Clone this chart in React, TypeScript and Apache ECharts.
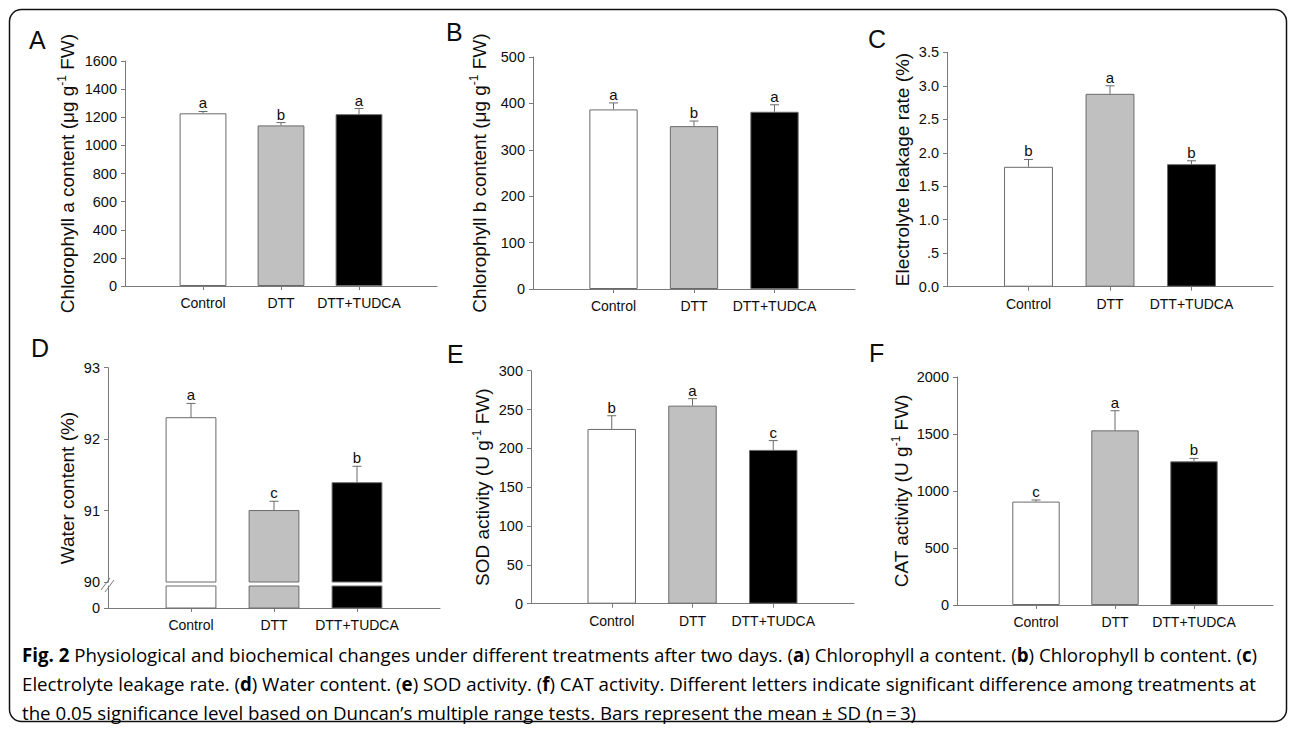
import React, { useEffect, useRef } from 'react';
import * as echarts from 'echarts';

// ---------------- data ----------------
const treatments = ['Control', 'DTT', 'DTT+TUDCA'];
const barColors = ['#ffffff', '#c0c0c0', '#000000'];

const chlAMean = [1228, 1142, 1222];
const chlASd = [13, 20, 40];
const chlALetters = ['a', 'b', 'a'];

const chlBMean = [387, 351, 382];
const chlBSd = [14, 11, 15];
const chlBLetters = ['a', 'b', 'a'];

const leakMean = [1.79, 2.88, 1.83];
const leakSd = [0.11, 0.12, 0.05];
const leakLetters = ['b', 'a', 'b'];
const leakTickLabels = ['0.0', '.5', '1.0', '1.5', '2.0', '2.5', '3.0', '3.5'];

const waterMean = [92.3, 91.0, 91.39];
const waterSd = [0.2, 0.13, 0.23];
const waterLetters = ['a', 'c', 'b'];
const waterBreak = 90;

const sodMean = [225, 255, 198];
const sodSd = [17, 9, 12];
const sodLetters = ['b', 'a', 'c'];

const catMean = [907, 1532, 1260];
const catSd = [14, 172, 26];
const catLetters = ['c', 'a', 'b'];

const captionLines = [
  '{b|Fig. 2}{n| Physiological and biochemical changes under different treatments after two days. (}{b|a}{n|) Chlorophyll a content. (}{b|b}{n|) Chlorophyll b content. (}{b|c}{n|)}',
  '{n|Electrolyte leakage rate. (}{b|d}{n|) Water content. (}{b|e}{n|) SOD activity. (}{b|f}{n|) CAT activity. Different letters indicate significant difference among treatments at}',
  '{n|the 0.05 significance level based on Duncan\u2019s multiple range tests. Bars represent the mean \u00b1 SD (n\u2009=\u20093)}',
];

// ---------------- styles ----------------
const FONT = '"Liberation Sans", Arial, sans-serif';
const CAP_FONT = '"Open Sans", sans-serif';
const AXIS_GRAY = '#7a7a7a';
const BORDER = '#6a6a6a';
const TEXT = '#0d0d0d';
const paddedCats = ['', ...treatments, ''];

const nameRich = {
  t: { fontSize: 19, fontFamily: FONT, color: TEXT, lineHeight: 22 },
  s: { fontSize: 12, fontFamily: FONT, color: TEXT, verticalAlign: 'top' },
};

function xAxisFor(gridIndex: number, visible = true) {
  return {
    type: 'category',
    gridIndex,
    data: paddedCats,
    boundaryGap: false,
    show: visible,
    axisLine: { show: true, lineStyle: { color: AXIS_GRAY, width: 1 } },
    axisTick: {
      show: true,
      length: 4,
      interval: (i: number) => i >= 1 && i <= treatments.length,
      lineStyle: { color: AXIS_GRAY },
    },
    axisLabel: { interval: 0, margin: 10, fontSize: 14, color: TEXT, fontFamily: FONT },
    splitLine: { show: false },
  };
}

function yAxisFor(gridIndex: number, min: number, max: number, interval: number, extra: any = {}) {
  return {
    type: 'value',
    gridIndex,
    min,
    max,
    interval,
    axisLine: { show: true, lineStyle: { color: AXIS_GRAY, width: 1 } },
    axisTick: { show: true, length: 4, lineStyle: { color: AXIS_GRAY } },
    axisLabel: {
      margin: 8,
      fontSize: 14.5,
      color: TEXT,
      fontFamily: FONT,
      formatter: (v: number) => String(v),
      ...(extra.axisLabel || {}),
    },
    splitLine: { show: false },
    nameLocation: 'middle',
    nameTextStyle: { rich: nameRich },
    ...extra.rest,
  };
}

function barSeries(axisIndex: number, means: number[]) {
  return {
    type: 'bar',
    xAxisIndex: axisIndex,
    yAxisIndex: axisIndex,
    barWidth: '60%',
    itemStyle: { borderColor: BORDER, borderWidth: 1 },
    data: ['-', ...means.map((v, i) => ({ value: v, itemStyle: { color: barColors[i] } })), '-'],
  };
}

function errorSeries(axisIndex: number, means: number[], sds: number[], letters: string[]) {
  return {
    type: 'custom',
    xAxisIndex: axisIndex,
    yAxisIndex: axisIndex,
    z: 5,
    data: means.map((m, i) => [i + 1, m, sds[i]]),
    renderItem: (params: any, api: any) => {
      const x = api.value(0);
      const m = api.value(1);
      const s = api.value(2);
      const base = api.coord([x, m]);
      const top = api.coord([x, m + s]);
      return {
        type: 'group',
        children: [
          { type: 'line', shape: { x1: base[0], y1: base[1], x2: top[0], y2: top[1] }, style: { stroke: BORDER, lineWidth: 1 } },
          { type: 'line', shape: { x1: top[0] - 4.5, y1: top[1], x2: top[0] + 4.5, y2: top[1] }, style: { stroke: BORDER, lineWidth: 1 } },
          {
            type: 'text',
            x: top[0],
            y: top[1] - 1,
            style: { text: letters[params.dataIndex], align: 'center', verticalAlign: 'bottom', fontSize: 15, fontFamily: FONT, fill: TEXT },
          },
        ],
      };
    },
  };
}

function brokenBarSeries(axisIndex: number, means: number[], lower: boolean) {
  return {
    type: 'custom',
    xAxisIndex: axisIndex,
    yAxisIndex: axisIndex,
    z: 2,
    data: means.map((m, i) => [i + 1, m]),
    renderItem: (params: any, api: any) => {
      const x = api.value(0);
      const v = api.value(1);
      const from = lower ? 0 : waterBreak;
      const to = lower ? Math.min(v, waterBreak) : v;
      const p0 = api.coord([x, from]);
      const p1 = api.coord([x, to]);
      const w = api.size([1, 0])[0] * 0.6;
      return {
        type: 'rect',
        shape: { x: p0[0] - w / 2, y: p1[1], width: w, height: p0[1] - p1[1] },
        style: { fill: barColors[params.dataIndex], stroke: BORDER, lineWidth: 1 },
      };
    },
  };
}

function buildOption() {
  const grids = [
    { left: 125, top: 61, width: 312, height: 225 }, // A
    { left: 533, top: 57, width: 322, height: 232 }, // B
    { left: 947, top: 52.3, width: 326, height: 234.4 }, // C
    { left: 108, top: 367.7, width: 332, height: 214.3 }, // D upper
    { left: 531, top: 370.7, width: 323, height: 233 }, // E
    { left: 957, top: 377, width: 316, height: 228 }, // F
    { left: 108, top: 586, width: 332, height: 22 }, // D lower
  ];

  const xAxes = [
    xAxisFor(0),
    xAxisFor(1),
    xAxisFor(2),
    xAxisFor(3, false),
    xAxisFor(4),
    xAxisFor(5),
    xAxisFor(6),
  ];

  const yAxes = [
    yAxisFor(0, 0, 1600, 200, { rest: { name: '{t|Chlorophyll a content (\u03bcg g}{s|-1}{t| FW)}', nameGap: 47 } }),
    yAxisFor(1, 0, 500, 100, { rest: { name: '{t|Chlorophyll b content (\u03bcg g}{s|-1}{t| FW)}', nameGap: 43 } }),
    yAxisFor(2, 0, 3.5, 0.5, {
      axisLabel: { formatter: (v: number) => leakTickLabels[Math.round(v / 0.5)] ?? String(v) },
      rest: { name: '{t|Electrolyte leakage rate (%)}', nameGap: 34 },
    }),
    yAxisFor(3, waterBreak, 93, 1),
    yAxisFor(4, 0, 300, 50, { rest: { name: '{t|SOD activity (U g}{s|-1}{t| FW)}', nameGap: 38 } }),
    yAxisFor(5, 0, 2000, 500, { rest: { name: '{t|CAT activity (U g}{s|-1}{t| FW)}', nameGap: 45 } }),
    {
      ...yAxisFor(6, 0, waterBreak, waterBreak),
      axisLabel: { margin: 8, fontSize: 14.5, color: TEXT, fontFamily: FONT, customValues: [0], showMaxLabel: false },
      axisTick: { show: true, length: 4, lineStyle: { color: AXIS_GRAY }, customValues: [0] },
    },
  ];

  const series = [
    barSeries(0, chlAMean),
    errorSeries(0, chlAMean, chlASd, chlALetters),
    barSeries(1, chlBMean),
    errorSeries(1, chlBMean, chlBSd, chlBLetters),
    barSeries(2, leakMean),
    errorSeries(2, leakMean, leakSd, leakLetters),
    brokenBarSeries(3, waterMean, false),
    brokenBarSeries(6, waterMean, true),
    errorSeries(3, waterMean, waterSd, waterLetters),
    barSeries(4, sodMean),
    errorSeries(4, sodMean, sodSd, sodLetters),
    barSeries(5, catMean),
    errorSeries(5, catMean, catSd, catLetters),
  ];

  const panelLetter = (text: string, x: number, y: number) => ({
    type: 'text',
    x,
    y,
    style: { text, fontSize: 25, fontFamily: FONT, fill: TEXT, align: 'left', verticalAlign: 'middle' },
  });

  const graphic: any[] = [
    {
      type: 'rect',
      shape: { x: 9.5, y: 9.5, width: 1277, height: 712, r: 12 },
      style: { fill: 'none', stroke: '#111', lineWidth: 1.5 },
      silent: true,
    },
    panelLetter('A', 29, 40),
    panelLetter('B', 446, 32),
    panelLetter('C', 868, 39),
    panelLetter('D', 31, 348),
    panelLetter('E', 447, 354),
    panelLetter('F', 869, 353),
    {
      type: 'text',
      x: 67,
      y: 488,
      rotation: Math.PI / 2,
      style: { text: 'Water content (%)', fontSize: 19, fontFamily: FONT, fill: TEXT, align: 'center', verticalAlign: 'middle' },
    },
    // axis break marks
    { type: 'line', shape: { x1: 101, y1: 590, x2: 110, y2: 578 }, style: { stroke: AXIS_GRAY, lineWidth: 1 } },
    { type: 'line', shape: { x1: 105, y1: 592, x2: 114, y2: 580 }, style: { stroke: AXIS_GRAY, lineWidth: 1 } },
    ...captionLines.map((line, i) => ({
      type: 'text',
      x: 22,
      y: 654 + i * 29,
      style: {
        text: line,
        align: 'left',
        verticalAlign: 'middle',
        rich: {
          n: { fontSize: 18.7, fontFamily: CAP_FONT, color: '#2a2a2a' },
          b: { fontSize: 18.7, fontFamily: CAP_FONT, color: '#1a1a1a', fontWeight: 'bold' },
        },
      },
    })),
  ];

  return {
    animation: false,
    backgroundColor: '#ffffff',
    textStyle: { fontFamily: FONT },
    grid: grids,
    xAxis: xAxes,
    yAxis: yAxes,
    series,
    graphic,
  };
}

export default function App() {
  const ref = useRef<HTMLDivElement>(null);
  useEffect(() => {
    if (!ref.current) return;
    const chart = echarts.init(ref.current, null, { renderer: 'svg', width: 1290, height: 730 });
    chart.setOption(buildOption() as any);
    return () => chart.dispose();
  }, []);
  return (
    <div
      ref={ref}
      style={{ position: 'fixed', left: 0, top: 0, width: 1290, height: 730, background: '#fff' }}
    />
  );
}
